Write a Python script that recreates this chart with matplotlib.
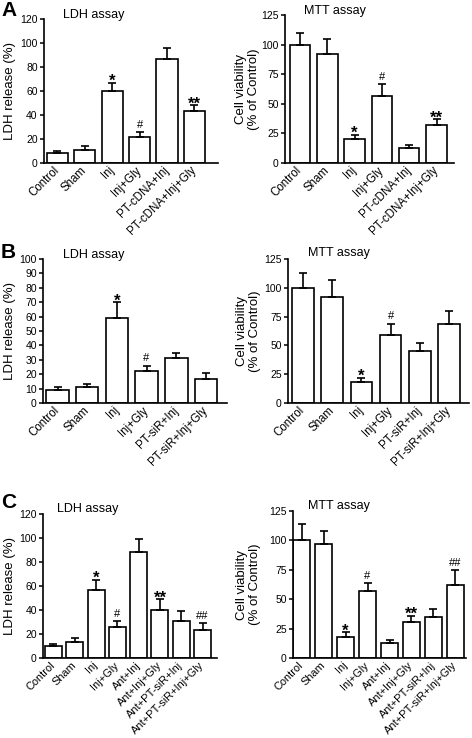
import matplotlib
matplotlib.use('Agg')
import matplotlib.pyplot as plt
import matplotlib.transforms as mtransforms
import numpy as np

plt.rcParams['font.family'] = ['Liberation Sans', 'DejaVu Sans']

# ---- panel A: PT-cDNA ----
groups_a = ['Control', 'Sham', 'Inj', 'Inj+Gly', 'PT-cDNA+Inj', 'PT-cDNA+Inj+Gly']
ldh_a = [8, 11, 60, 22, 87, 43]
ldh_a_err = [2, 3, 7, 4, 9, 5]
ldh_a_sig = ['', '', '*', '#', '', '**']
mtt_a = [100, 92, 20, 57, 13, 32]
mtt_a_err = [10, 13, 4, 10, 2, 5]
mtt_a_sig = ['', '', '*', '#', '', '**']

# ---- panel B: PT-siR ----
groups_b = ['Control', 'Sham', 'Inj', 'Inj+Gly', 'PT-siR+Inj', 'PT-siR+Inj+Gly']
ldh_b = [9, 11, 59, 22, 31, 17]
ldh_b_err = [2, 2.5, 11, 4, 4, 4]
ldh_b_sig = ['', '', '*', '#', '', '']
mtt_b = [100, 92, 18, 59, 45, 69]
mtt_b_err = [13, 15, 4, 10, 7, 11]
mtt_b_sig = ['', '', '*', '#', '', '']

# ---- panel C: antagonist ----
groups_c = ['Control', 'Sham', 'Inj', 'Inj+Gly', 'Ant+Inj', 'Ant+Inj+Gly',
            'Ant+PT-siR+Inj', 'Ant+PT-siR+Inj+Gly']
ldh_c = [10, 13, 57, 26, 88, 40, 31, 23]
ldh_c_err = [2, 4, 8, 5, 11, 9, 8, 6]
ldh_c_sig = ['', '', '*', '#', '', '**', '', '##']
mtt_c = [100, 97, 18, 57, 13, 31, 35, 62]
mtt_c_err = [14, 11, 4, 7, 2, 5, 7, 13]
mtt_c_sig = ['', '', '*', '#', '', '**', '', '##']

W, H = 472, 738
fig = plt.figure(figsize=(W / 100, H / 100), dpi=100)
fig.patch.set_facecolor('white')


def px_rect(x0, x1, y0, y1):
    # pixel box (top-left origin) -> figure fraction rect
    return [x0 / W, 1 - y1 / H, (x1 - x0) / W, (y1 - y0) / H]


def draw(box, groups, vals, errs, sig, ymax, ystep, pad_l, pad_r, width,
         ylabel, label_x, title, title_px, xfont=8.3):
    ax = fig.add_axes(px_rect(*box))
    x = np.arange(len(groups))
    ax.bar(x, vals, width=width, color='white', edgecolor='black', linewidth=1.2,
           yerr=[np.zeros(len(errs)), errs],
           error_kw=dict(ecolor='black', elinewidth=1.2, capsize=3.2, capthick=1.2),
           zorder=2)
    for xi, v, e, s in zip(x, vals, errs, sig):
        if not s:
            continue
        if '*' in s:
            ax.annotate(s, (xi, v + e), xytext=(0, -4.5), textcoords='offset points',
                        ha='center', va='bottom', fontsize=12, fontweight='bold')
        else:
            ax.annotate(s, (xi, v + e), xytext=(0, 1.5), textcoords='offset points',
                        ha='center', va='bottom', fontsize=8)
    ax.set_xlim(-pad_l, len(groups) - 1 + pad_r)
    ax.set_ylim(0, ymax)
    ax.set_yticks(np.arange(0, ymax + 1, ystep))
    ax.set_xticks(x)
    ax.set_xticklabels(groups, rotation=45, ha='right', va='center',
                       rotation_mode='anchor', fontsize=xfont)
    shift = mtransforms.ScaledTranslation(6 / 100, 0, fig.dpi_scale_trans)
    for lab in ax.get_xticklabels():
        lab.set_transform(lab.get_transform() + shift)
    for side in ('top', 'right'):
        ax.spines[side].set_visible(False)
    for side in ('left', 'bottom'):
        ax.spines[side].set_linewidth(1.2)
    ax.tick_params(axis='x', length=0, pad=4)
    ax.tick_params(axis='y', length=3, width=1.1, labelsize=7.5, pad=1.5)
    ax.set_ylabel(ylabel, fontsize=9.5, linespacing=1.1)
    # label_x is the right edge of the rotated label, in figure pixels
    ax.yaxis.set_label_coords((label_x - box[0]) / (box[1] - box[0]), 0.5)
    fig.text(title_px[0] / W, 1 - title_px[1] / H, title, fontsize=9,
             ha='left', va='center')
    return ax


ldh_label = 'LDH release (%)'
mtt_label = 'Cell viability\n(% of Control)'

# row A
draw((44, 218, 19, 163), groups_a, ldh_a, ldh_a_err, ldh_a_sig, 120, 20,
     0.49, 0.86, 0.77, ldh_label, 16, 'LDH assay', (63, 15))
draw((285, 454, 15, 163), groups_a, mtt_a, mtt_a_err, mtt_a_sig, 125, 25,
     0.55, 0.64, 0.75, mtt_label, 260, 'MTT assay', (304, 11))

# row B
draw((43, 227, 259, 403), groups_b, ldh_b, ldh_b_err, ldh_b_sig, 100, 10,
     0.49, 0.71, 0.76, ldh_label, 16, 'LDH assay', (63, 255))
draw((288, 469, 259, 403), groups_b, mtt_b, mtt_b_err, mtt_b_sig, 125, 25,
     0.51, 0.68, 0.74, mtt_label, 261, 'MTT assay', (308, 253))

# row C
draw((43, 217, 514, 658), groups_c, ldh_c, ldh_c_err, ldh_c_sig, 120, 20,
     0.49, 0.68, 0.80, ldh_label, 16, 'LDH assay', (57, 509), xfont=7.9)
draw((293, 466, 511, 658), groups_c, mtt_c, mtt_c_err, mtt_c_sig, 125, 25,
     0.39, 0.48, 0.75, mtt_label, 261, 'MTT assay', (308, 506), xfont=7.9)

for letter, ypx in (('A', 11), ('B', 253), ('C', 502)):
    fig.text(1 / W, 1 - ypx / H, letter, fontsize=15, fontweight='bold',
             ha='left', va='center')

fig.savefig('out.png', dpi=100, facecolor='white')
